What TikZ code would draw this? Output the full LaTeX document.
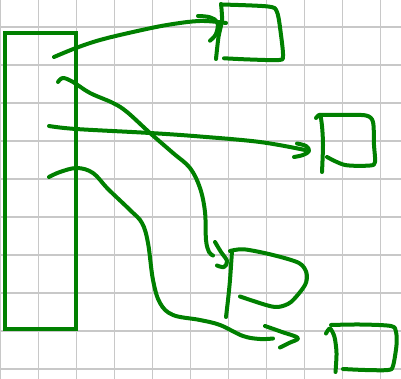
\documentclass[tikz,border=0pt]{standalone}
\definecolor{ink}{RGB}{0,128,0}
\definecolor{gridgray}{RGB}{200,200,200}
\tikzset{
  pen/.style={draw=ink, line width=4pt, line cap=round, line join=round},
  gridline/.style={draw=gridgray, line width=1.5pt}
}
\begin{document}
\begin{tikzpicture}[x=1pt,y=-1pt]
\useasboundingbox (0,0) rectangle (401,379);
\fill[white] (0,0) rectangle (401,379);
% grid
\foreach \k in {0,...,10} { \draw[gridline] (0.6+38*\k,0) -- (0.6+38*\k,379); }
\foreach \k in {0,...,9} { \draw[gridline] (0,27+38*\k) -- (401,27+38*\k); }
% tall rectangle
\draw[pen, line cap=butt, line join=miter] (5,33) rectangle (76,329);
% arrow 1
\draw[pen] plot[smooth, tension=0.6] coordinates {(54,57) (76,48) (100,40) (133,32) (167,25) (200,21) (226,23)};
\draw[pen] plot[smooth, tension=0.6] coordinates {(198,16) (210,17.3) (217.5,22.7) (216,34) (210,40.7)};
% box 1
\draw[pen] plot[smooth, tension=0.5] coordinates {(221,4) (222,20) (218.5,37) (216,59)};
\draw[pen] plot[smooth, tension=0.5] coordinates {(221,4.5) (268,6.5) (277,12) (281,35) (283,56) (279,60) (250,59.5) (224,58.3)};
% arrow 2
\draw[pen] plot[smooth, tension=0.6] coordinates {(49,126) (76,129) (150,133) (200,136.5) (260,142) (305,150)};
\draw[pen] plot[smooth, tension=0.6] coordinates {(297,143.5) (306,146) (309,151) (303,155) (294,157)};
% box 2
\draw[pen] plot[smooth, tension=0.5] coordinates {(316,118) (320,115) (322,126) (323,145) (322,172)};
\draw[pen] plot[smooth, tension=0.5] coordinates {(320,115) (345,115) (366,115.5) (373,122) (374,145) (375,162) (370,165.5) (345,165) (327,157)};
% arrow 3
\draw[pen] plot[smooth, tension=0.6] coordinates {(58,82) (63,78) (73,82) (90,93) (113,103) (127,112) (150,133) (173,153) (190,168) (200,188) (205,212) (206,240) (209,252) (213,255.5)};
\draw[pen] plot[smooth, tension=0.6] coordinates {(215,242) (221,252) (227,261) (224,267) (217,265.5)};
% box 3
\draw[pen] plot[smooth, tension=0.5] coordinates {(232,251) (230,280) (228,300) (226,317)};
\draw[pen] plot[smooth, tension=0.5] coordinates {(230,251) (244,249.3) (273,255) (299,263) (306.5,273) (305,285) (291,302) (278,307) (266,305) (240,296.5)};
% arrow 4
\draw[pen] plot[smooth, tension=0.6] coordinates {(49,177) (60,172) (77,168) (93,173) (108,189) (130,210) (142,223) (148,243) (153,280) (160,303) (173,315) (200,320) (220,325) (243,336) (260,339) (273,338.5)};
\draw[pen] plot[smooth, tension=0.6] coordinates {(265,326) (282,332) (298,338) (289,343) (280,347.5)};
% box 4
\draw[pen] plot[smooth, tension=0.5] coordinates {(326,333.5) (330,328.5) (334.5,337) (336.5,353) (335.5,372)};
\draw[pen] plot[smooth, tension=0.5] coordinates {(331,325) (360,324.5) (391,326) (396,332) (396.5,345) (393,366) (388,370) (365,370) (343,369)};
\end{tikzpicture}
\end{document}
